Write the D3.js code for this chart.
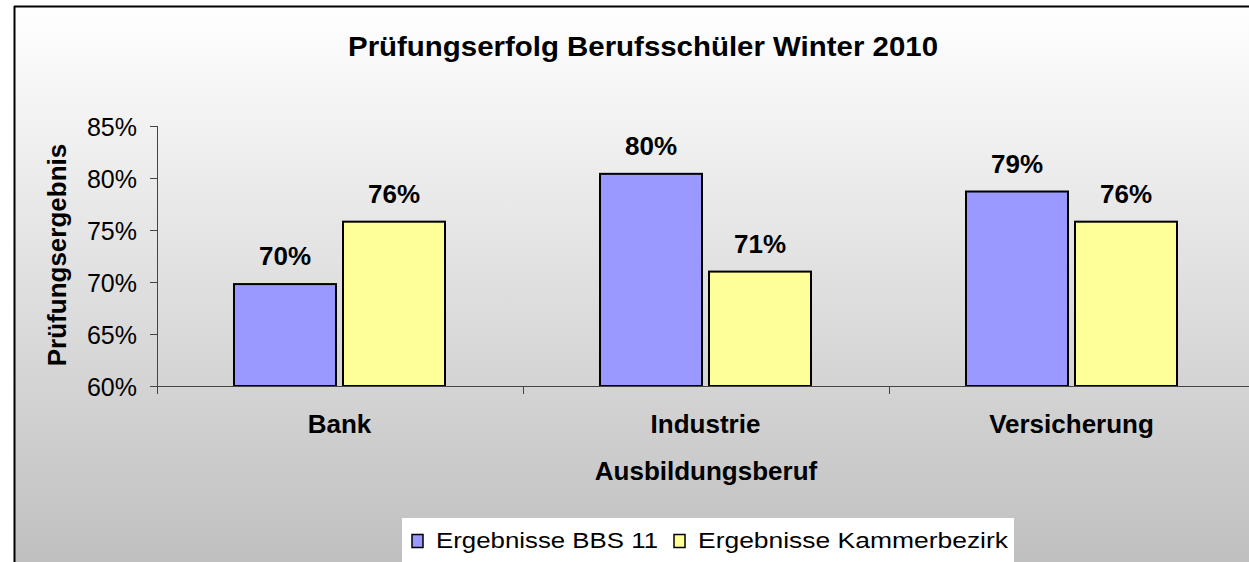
<!DOCTYPE html>
<html>
<head>
<meta charset="utf-8">
<script src="https://cdn.jsdelivr.net/npm/d3@7"></script>
<style>
html,body{margin:0;padding:0;background:#fff;}
svg{display:block;font-family:"Liberation Sans",Arial,sans-serif;}
</style>
</head>
<body>
<svg id="chart" width="1249" height="562"></svg>
<script>
const categories = ["Bank", "Industrie", "Versicherung"];
const seriesNames = ["Ergebnisse BBS 11", "Ergebnisse Kammerbezirk"];
const bbs11 = [0.698, 0.804, 0.787];
const kammer = [0.758, 0.710, 0.758];
const yTicks = [0.60, 0.65, 0.70, 0.75, 0.80, 0.85];
const colors = ["#9999ff", "#ffff99"];

const svg = d3.select("#chart");
const W = 1249, H = 562;
const FONT = "Liberation Sans, Arial, sans-serif";

const defs = svg.append("defs");
const grad = defs.append("linearGradient").attr("id","bg").attr("x1",0).attr("y1",0).attr("x2",0).attr("y2",1);
grad.append("stop").attr("offset","0%").attr("stop-color","#ffffff");
grad.append("stop").attr("offset","100%").attr("stop-color","#bfbfbf");

// chart background and border
svg.append("rect").attr("x",14).attr("y",6).attr("width",W).attr("height",H).attr("fill","url(#bg)");
svg.append("line").attr("x1",14).attr("x2",W).attr("y1",6.5).attr("y2",6.5).attr("stroke","#000").attr("stroke-width",2);
svg.append("line").attr("x1",14.5).attr("x2",14.5).attr("y1",6).attr("y2",H).attr("stroke","#000").attr("stroke-width",2);

const plot = {left:157, right:1255, top:126, bottom:386};

const x0 = d3.scaleBand().domain(categories).range([plot.left, plot.right]).paddingInner(0).paddingOuter(0);
const x1 = d3.scaleBand().domain(seriesNames).range([77, 77+102*2+7]).paddingInner(7/109).paddingOuter(0);
const y = d3.scaleLinear().domain([0.60, 0.85]).range([plot.bottom, plot.top]);

// title
svg.append("text").attr("x",643).attr("y",56).attr("text-anchor","middle")
  .attr("font-size",28).attr("font-weight","bold")
  .attr("textLength",590).attr("lengthAdjust","spacingAndGlyphs")
  .text("Prüfungserfolg Berufsschüler Winter 2010");

// bars
const data = categories.map((c,i)=>({cat:c, vals:[bbs11[i], kammer[i]]}));
const groups = svg.append("g").selectAll("g").data(data).join("g")
  .attr("transform", d=>`translate(${x0(d.cat)},0)`);
groups.selectAll("rect").data(d=>d.vals.map((v,j)=>({name:seriesNames[j], v, j}))).join("rect")
  .attr("x", d=>x1(d.name)).attr("width", x1.bandwidth())
  .attr("y", d=>y(d.v)).attr("height", d=>plot.bottom - y(d.v))
  .attr("fill", d=>colors[d.j]).attr("stroke","#000").attr("stroke-width",2);
groups.selectAll("text.val").data(d=>d.vals.map((v,j)=>({name:seriesNames[j], v, j}))).join("text")
  .attr("class","val")
  .attr("x", d=>x1(d.name)+x1.bandwidth()/2).attr("y", d=>y(d.v)-19)
  .attr("text-anchor","middle").attr("font-size",26).attr("font-weight","bold")
  .text(d=>d3.format(".0%")(d.v));

// y axis
const yAxis = d3.axisLeft(y).tickValues(yTicks).tickFormat(d3.format(".0%")).tickSizeOuter(0).tickSize(7).tickPadding(13);
const gy = svg.append("g").attr("transform",`translate(${plot.left},0)`).call(yAxis);
gy.select(".domain").remove();
gy.append("line").attr("x1",0.5).attr("x2",0.5).attr("y1",plot.top).attr("y2",plot.bottom+8).attr("stroke","#444");
gy.selectAll(".tick line").attr("stroke","#444");
gy.selectAll(".tick text").attr("font-size",25).attr("fill","#000").attr("font-family",FONT).attr("dy","0.36em");

// x axis
const gx = svg.append("g").attr("transform",`translate(0,${plot.bottom})`);
gx.append("line").attr("x1",plot.left-7).attr("x2",W).attr("y1",0.5).attr("y2",0.5).attr("stroke","#444");
gx.selectAll("line.div").data(categories.slice(1)).join("line").attr("class","div")
  .attr("x1",d=>Math.round(x0(d))+0.5).attr("x2",d=>Math.round(x0(d))+0.5).attr("y1",0).attr("y2",8).attr("stroke","#444");
gx.selectAll("text").data(categories).join("text")
  .attr("x",d=>x0(d)+x1.bandwidth()+77+3.5).attr("y",47).attr("text-anchor","middle")
  .attr("font-size",26).attr("font-weight","bold").text(d=>d);

// axis titles
svg.append("text").attr("x",706).attr("y",480).attr("text-anchor","middle")
  .attr("font-size",26).attr("font-weight","bold").text("Ausbildungsberuf");
svg.append("text").attr("transform","translate(66,255) rotate(-90)").attr("text-anchor","middle")
  .attr("font-size",26).attr("font-weight","bold").text("Prüfungsergebnis");

// legend
const lg = svg.append("g");
lg.append("rect").attr("x",402).attr("y",518).attr("width",612).attr("height",50).attr("fill","#fff");
const items = [{x:412, tx:436, len:222},{x:674, tx:698, len:310}];
seriesNames.forEach((n,i)=>{
  lg.append("rect").attr("x",items[i].x).attr("y",534.5).attr("width",11).attr("height",13)
    .attr("fill",colors[i]).attr("stroke","#000").attr("stroke-width",1.5);
  lg.append("text").attr("x",items[i].tx).attr("y",548).attr("font-size",22)
    .attr("textLength",items[i].len).attr("lengthAdjust","spacingAndGlyphs").text(n);
});
</script>
</body>
</html>
